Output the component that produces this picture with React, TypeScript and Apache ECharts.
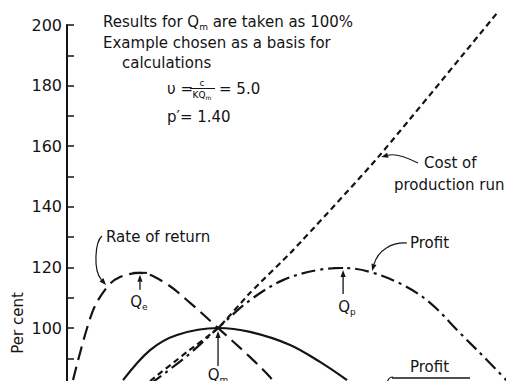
import React, { useEffect, useRef } from "react";
import * as echarts from "echarts";

// Quantity per run, expressed relative to Q_m (Q_m = 1)
const qRate = [0.04, 0.166, 0.265, 0.351, 0.483, 0.649, 0.815, 1.0, 1.212, 1.344, 1.377];
const rateOfReturn = [82.8, 105, 113.5, 116.8, 118.2, 114.9, 108.3, 100, 90.4, 83.8, 81.5];

const qProfit = [0.55, 0.795, 1.0, 1.212, 1.43, 1.656, 1.828, 2.007, 2.225, 2.404, 2.603, 2.801, 2.914];
const profit = [81.5, 90.8, 100, 109.2, 115.8, 119.1, 119.8, 118.5, 114.2, 108.3, 98.3, 88.4, 82.5];

const qCost = [0.55, 0.795, 1.0, 1.212, 1.497, 2.06, 2.848];
const costOfRun = [82.5, 92.1, 100, 111.6, 125.7, 156.4, 204];

const qUnit = [0.371, 0.55, 0.728, 1.0, 1.212, 1.477, 1.675, 1.854];
const profitPerUnit = [82.8, 92.7, 97.7, 100, 98.7, 94.4, 88.8, 82.8];

// Key quantities marked on the chart
const Q_E = 0.483;
const Q_M = 1.0;
const Q_P = 1.828;

const Y_MIN = 60;
const Y_MAX = 200;
const Y_STEP = 10;
const Y_LABEL_STEP = 20;

const INK = "#141414";
const FONT = "DejaVu Sans";
const FS = 15;

const pairs = (xs: number[], ys: number[]) => xs.map((x, i) => [x, ys[i]]);

function arrowTo(x1: number, y1: number, x2: number, y2: number, head = 7): any[] {
  const a = Math.atan2(y2 - y1, x2 - x1);
  const bx = x2 - head * Math.cos(a);
  const by = y2 - head * Math.sin(a);
  const nx = -Math.sin(a) * 2.6;
  const ny = Math.cos(a) * 2.6;
  return [
    { type: "line", shape: { x1, y1, x2: bx, y2: by }, style: { stroke: INK, lineWidth: 1.3 } },
    {
      type: "polygon",
      shape: { points: [[x2, y2], [bx + nx, by + ny], [bx - nx, by - ny]] },
      style: { fill: INK },
    },
  ];
}

function curvedArrow(p0: number[], c1: number[], c2: number[], p1: number[], head = 7): any[] {
  const a = Math.atan2(p1[1] - c2[1], p1[0] - c2[0]);
  const bx = p1[0] - head * Math.cos(a);
  const by = p1[1] - head * Math.sin(a);
  const nx = -Math.sin(a) * 2.6;
  const ny = Math.cos(a) * 2.6;
  return [
    {
      type: "bezierCurve",
      shape: { x1: p0[0], y1: p0[1], cpx1: c1[0], cpy1: c1[1], cpx2: c2[0], cpy2: c2[1], x2: bx, y2: by },
      style: { stroke: INK, lineWidth: 1.2, fill: "none" },
    },
    {
      type: "polygon",
      shape: { points: [[p1[0], p1[1]], [bx + nx, by + ny], [bx - nx, by - ny]] },
      style: { fill: INK },
    },
  ];
}

const richQ = {
  q: { fontFamily: FONT, fontSize: FS, color: INK, lineHeight: 19 },
  sub: { fontFamily: FONT, fontSize: 9, color: INK, lineHeight: 10, verticalAlign: "bottom" },
  t: { fontFamily: FONT, fontSize: FS, color: INK, lineHeight: 19 },
};

function text(x: number, y: number, str: string, extra: any = {}): any {
  return {
    type: "text",
    x,
    y,
    style: {
      text: str,
      fontFamily: FONT,
      fontSize: FS,
      fill: INK,
      textAlign: "left",
      textVerticalAlign: "middle",
      rich: richQ,
      ...extra,
    },
  };
}

export default function App() {
  const ref = useRef<HTMLDivElement>(null);

  useEffect(() => {
    if (!ref.current) return;
    const chart = echarts.init(ref.current, null, { renderer: "svg" });

    const lineSeries = (name: string, data: number[][], type: any, smooth = 0.35) => ({
      name,
      type: "line",
      data,
      smooth,
      symbol: "none",
      clip: false,
      lineStyle: { color: INK, width: 2.2, type, cap: "butt" },
    });

    chart.setOption({
      animation: false,
      backgroundColor: "#ffffff",
      grid: {
        left: 67,
        top: 25,
        width: 438,
        height: (Y_MAX - Y_MIN) * 3.03,
        outerBoundsMode: "none",
      },
      xAxis: { type: "value", min: 0, max: 2.9, show: false },
      yAxis: {
        type: "value",
        min: Y_MIN,
        max: Y_MAX,
        interval: Y_STEP,
        axisLine: { show: true, lineStyle: { color: INK, width: 2 } },
        axisTick: { show: true, inside: true, length: 7, lineStyle: { color: INK, width: 1.5 } },
        splitLine: { show: false },
        axisLabel: {
          margin: 5,
          color: INK,
          fontFamily: FONT,
          fontSize: 16,
          formatter: (v: number) => (v % Y_LABEL_STEP === 0 ? String(v) : ""),
        },
      },
      series: [
        lineSeries("Cost of production run", pairs(qCost, costOfRun), [6, 4], 0.2),
        lineSeries("Rate of return", pairs(qRate, rateOfReturn), [14, 7]),
        lineSeries("Profit", pairs(qProfit, profit), [14, 5, 3, 5]),
        lineSeries("Profit per unit", pairs(qUnit, profitPerUnit), "solid"),
      ],
    });

    const px = (q: number, v: number) => chart.convertToPixel({ seriesIndex: 0 }, [q, v]) as number[];

    const pe = px(Q_E, 118.2);
    const pm = px(Q_M, 100);
    const pp = px(Q_P, 119.8);
    const pc = px(2.06, 156.4);
    const pr = px(0.265, 113.5);
    const pf = px(2.007, 118.5);

    const g: any[] = [
      // notes block
      text(103, 22, "{t|Results for }{q|Q}{sub|m}{t| are taken as 100%}"),
      text(103, 43, "Example chosen as a basis for"),
      text(122, 63, "calculations"),
      text(167, 89, "υ ="),
      {
        type: "text",
        x: 202,
        y: 83,
        style: { text: "c", fontFamily: FONT, fontSize: 9, fill: INK, textAlign: "center", textVerticalAlign: "middle" },
      },
      { type: "line", shape: { x1: 190, y1: 88.5, x2: 215, y2: 88.5 }, style: { stroke: INK, lineWidth: 1 } },
      {
        type: "text",
        x: 202,
        y: 95,
        style: {
          text: "{a|KQ}{b|m}",
          textAlign: "center",
          textVerticalAlign: "middle",
          rich: {
            a: { fontFamily: FONT, fontSize: 9, color: INK, lineHeight: 11 },
            b: { fontFamily: FONT, fontSize: 6, color: INK, lineHeight: 7, verticalAlign: "bottom" },
          },
        },
      },
      text(219, 89, "= 5.0"),
      text(167, 117, "p′= 1.40"),

      // axis title
      {
        type: "text",
        x: 18,
        y: 323,
        rotation: Math.PI / 2,
        style: {
          text: "Per cent",
          fontFamily: FONT,
          fontSize: FS,
          fill: INK,
          textAlign: "center",
          textVerticalAlign: "middle",
        },
      },

      // curve labels
      text(424, 163, "Cost of"),
      text(394, 185, "production run"),
      ...curvedArrow([418, 163], [408, 158], [396, 153], [pc[0] + 3, pc[1]]),

      text(106, 237, "Rate of return"),
      ...curvedArrow([102, 236], [95, 242], [93, 270], [pr[0] - 1, pr[1] - 2]),

      text(410, 243, "Profit"),
      ...curvedArrow([407, 243], [392, 242], [378, 250], [pf[0] + 2, pf[1] - 1]),

      text(410, 367, "Profit"),
      { type: "line", shape: { x1: 392, y1: 378, x2: 470, y2: 378 }, style: { stroke: INK, lineWidth: 1.3 } },
      {
        type: "bezierCurve",
        shape: { x1: 393, y1: 377, cpx1: 389, cpx2: 387, cpy1: 377, cpy2: 381, x2: 387, y2: 386 },
        style: { stroke: INK, lineWidth: 1.1, fill: "none" },
      },

      // Q_e marker
      { type: "line", shape: { x1: pe[0] - 7, y1: pe[1], x2: pe[0] + 7, y2: pe[1] }, style: { stroke: INK, lineWidth: 2 } },
      ...arrowTo(pe[0], pe[1] + 17, pe[0], pe[1] + 2),
      text(pe[0] - 1, pe[1] + 29, "{q|Q}{sub|e}", { textAlign: "center" }),

      // Q_m marker
      ...arrowTo(pm[0], pm[1] + 38, pm[0], pm[1] + 3),
      text(pm[0], pm[1] + 47, "{q|Q}{sub|m}", { textAlign: "center" }),

      // Q_p marker
      { type: "line", shape: { x1: pp[0] - 10, y1: pp[1], x2: pp[0], y2: pp[1] }, style: { stroke: INK, lineWidth: 2 } },
      ...arrowTo(pp[0], pp[1] + 26, pp[0], pp[1] + 2),
      text(pp[0] + 4, pp[1] + 39, "{q|Q}{sub|p}", { textAlign: "center" }),
    ];

    chart.setOption({ graphic: { elements: g } });

    return () => chart.dispose();
  }, []);

  return (
    <div style={{ position: "absolute", left: 0, top: 0, width: 506, height: 381, overflow: "hidden" }}>
      <div ref={ref} style={{ width: 506, height: 470 }} />
    </div>
  );
}
